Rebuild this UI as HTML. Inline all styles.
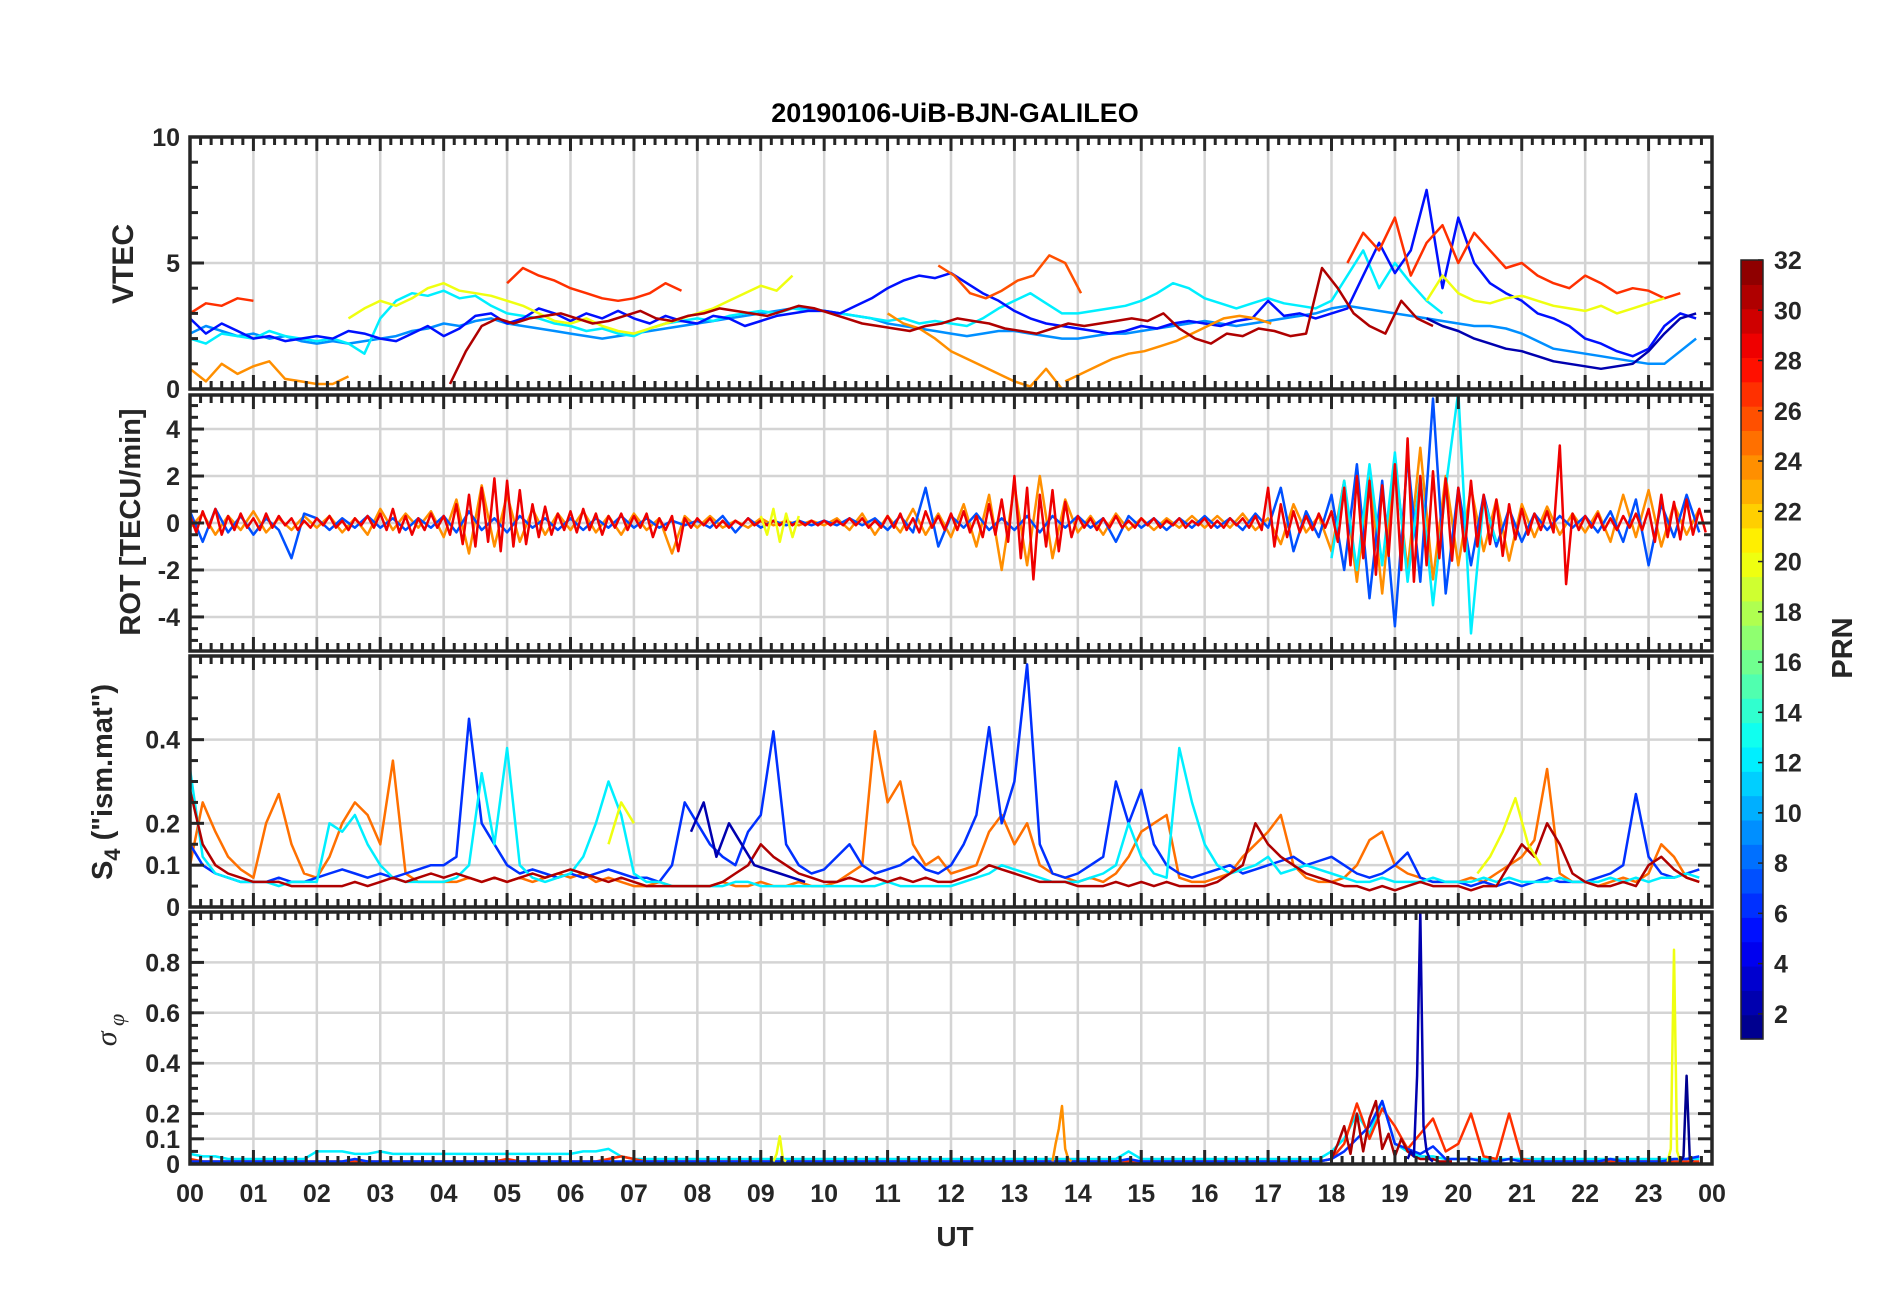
<!DOCTYPE html>
<html><head><meta charset="utf-8">
<style>
html,body{margin:0;padding:0;background:#fff;}
svg{display:block;font-family:"Liberation Sans",Arial,sans-serif;}
</style></head>
<body>
<svg id="chart" width="1902" height="1292" viewBox="0 0 1902 1292" xmlns="http://www.w3.org/2000/svg">
<rect x="0" y="0" width="1902" height="1292" fill="#fff"/>
<text x="955" y="122" text-anchor="middle" font-size="27" font-weight="bold" fill="#000">20190106-UiB-BJN-GALILEO</text>
<text x="955" y="1246" text-anchor="middle" font-size="28" font-weight="bold" fill="#262626">UT</text>
<g id="panels"></g>
<g id="cbar"></g>
</svg>
<script>
// ---------- DATA ----------
const hourLabels=["00","01","02","03","04","05","06","07","08","09","10","11","12","13","14","15","16","17","18","19","20","21","22","23","00"];
const cbarTicks=[2,4,6,8,10,12,14,16,18,20,22,24,26,28,30,32];
// VTEC series: prn, start hour, step hour, values
const vtecPrn=[9,12,5,27,27,27,26,24,24,24,20,20,31,2];
const vtecT0=[0,0,0,0,5.0,18.25,11.8,0,11.0,13.8,2.5,19.5,4.1,19.5];
const vtecDt=[0.25,0.25,0.25,0.25,0.25,0.25,0.25,0.25,0.25,0.25,0.25,0.25,0.25,0.25];
const vtecVals=[
[2.2,2.5,2.3,2.1,2.2,2.0,2.1,1.9,1.8,1.9,1.8,1.9,2.0,2.1,2.3,2.4,2.6,2.5,2.7,2.8,2.6,2.5,2.4,2.3,2.2,2.1,2.0,2.1,2.2,2.3,2.4,2.5,2.6,2.7,2.8,2.9,3.0,3.1,3.2,3.2,3.1,3.0,2.9,2.8,2.6,2.5,2.4,2.3,2.2,2.1,2.2,2.3,2.3,2.2,2.1,2.0,2.0,2.1,2.2,2.2,2.3,2.4,2.5,2.6,2.7,2.6,2.5,2.6,2.7,2.8,2.9,3.0,3.2,3.3,3.2,3.1,3.0,2.9,2.8,2.7,2.6,2.5,2.5,2.4,2.2,1.9,1.6,1.5,1.4,1.3,1.2,1.1,1.0,1.0,1.5,2.0],
[2.0,1.8,2.2,2.1,2.0,2.3,2.1,2.0,1.9,2.0,1.8,1.4,2.8,3.5,3.8,3.7,3.9,3.6,3.7,3.3,3.0,2.9,2.8,2.6,2.5,2.3,2.4,2.2,2.1,2.4,2.6,2.7,2.8,2.7,2.9,3.0,3.1,3.0,3.2,3.1,3.1,3.0,2.9,2.8,2.7,2.8,2.6,2.7,2.6,2.5,2.8,3.2,3.5,3.8,3.4,3.0,3.0,3.1,3.2,3.3,3.5,3.8,4.2,4.0,3.6,3.4,3.2,3.4,3.6,3.4,3.3,3.2,3.5,4.5,5.5,4.0,5.0,4.2,3.5,3.0],
[2.8,2.2,2.6,2.3,2.0,2.1,1.9,2.0,2.1,2.0,2.3,2.2,2.0,1.9,2.2,2.5,2.1,2.4,2.9,3.0,2.6,2.8,3.2,3.0,2.7,3.0,2.8,3.1,2.8,2.6,2.9,2.7,2.6,2.9,2.8,2.5,2.7,2.9,3.0,3.1,3.1,3.0,3.3,3.6,4.0,4.3,4.5,4.4,4.6,4.2,3.8,3.5,3.1,2.8,2.6,2.5,2.4,2.3,2.2,2.3,2.5,2.4,2.6,2.7,2.6,2.5,2.7,2.8,3.5,2.9,3.0,2.8,3.0,3.2,4.5,5.8,4.6,5.5,7.9,4.0,6.8,5.0,4.2,3.8,3.5,3.0,2.8,2.5,2.0,1.8,1.5,1.3,1.6,2.5,3.0,2.8],
[3.0,3.4,3.3,3.6,3.5],
[4.2,4.8,4.5,4.3,4.0,3.8,3.6,3.5,3.6,3.8,4.2,3.9],
[5.0,6.2,5.5,6.8,4.5,5.8,6.5,5.0,6.2,5.5,4.8,5.0,4.5,4.2,4.0,4.5,4.2,3.8,4.0,3.9,3.6,3.8],
[4.9,4.5,3.8,3.6,3.9,4.3,4.5,5.3,5.0,3.8],
[0.8,0.3,1.0,0.6,0.9,1.1,0.4,0.3,0.2,0.2,0.5],
[3.0,2.6,2.4,2.0,1.5,1.2,0.9,0.6,0.3,0.1,0.8,0.0],
[0.3,0.6,0.9,1.2,1.4,1.5,1.7,1.9,2.2,2.5,2.8,2.9,2.8,2.6],
[2.8,3.2,3.5,3.3,3.6,4.0,4.2,3.9,3.8,3.7,3.5,3.3,3.0,2.7,2.6,2.8,2.5,2.3,2.2,2.4,2.6,2.8,3.0,3.2,3.5,3.8,4.1,3.9,4.5],
[3.5,4.5,3.8,3.5,3.4,3.6,3.7,3.5,3.3,3.2,3.1,3.3,3.0,3.2,3.4,3.6],
[0.2,1.5,2.5,2.8,2.6,2.8,2.9,3.0,2.8,2.6,2.7,2.9,3.1,2.8,2.7,2.9,3.0,3.2,3.1,3.0,2.9,3.1,3.3,3.2,3.0,2.8,2.6,2.5,2.4,2.3,2.5,2.6,2.8,2.7,2.6,2.4,2.3,2.2,2.4,2.6,2.5,2.6,2.7,2.8,2.7,3.0,2.4,2.0,1.8,2.2,2.1,2.4,2.3,2.1,2.2,4.8,4.0,3.0,2.5,2.2,3.5,2.8,2.5],
[2.8,2.5,2.3,2.0,1.8,1.6,1.5,1.3,1.1,1.0,0.9,0.8,0.9,1.0,1.5,2.2,2.8,3.0]
];
// ROT series
const rotPrn=[24,7,12,29,20];
const rotT0=[0,0,18.0,0,9.0];
const rotDt=[0.2,0.2,0.2,0.1,0.1];
const rotVals=[
[-0.2,0.4,-0.5,0.3,-0.3,0.5,-0.4,0.2,-0.3,0.3,-0.2,0.3,-0.4,0.2,-0.5,0.6,-0.3,0.4,-0.2,0.5,-0.6,1.0,-1.3,1.6,-1.0,1.2,-0.8,0.6,-0.5,0.4,-0.3,0.5,-0.4,0.3,-0.5,0.4,-0.3,0.2,-1.3,0.3,-0.2,0.3,-0.2,0.1,-0.2,0.2,-0.1,0.1,-0.1,0.1,-0.1,0.2,-0.3,0.4,-0.5,0.3,-0.4,0.6,-0.5,0.4,-0.6,0.8,-1.0,1.2,-2.0,1.6,-1.8,2.0,-1.5,1.0,-0.4,0.3,-0.5,0.4,-0.3,0.2,-0.3,0.2,-0.2,0.3,-0.2,0.3,-0.2,0.4,-0.3,0.2,-0.9,0.8,-0.4,0.3,-1.2,1.8,-2.5,2.2,-3.0,2.6,-2.0,3.2,-2.4,2.0,-1.8,1.5,-1.2,1.0,-1.6,0.8,-0.6,0.7,-0.5,0.4,-0.4,0.5,-0.8,1.2,-0.6,1.4,-1.0,0.8,-0.5,0.6],
[0.5,-0.8,0.6,-0.4,0.3,-0.5,0.2,-0.3,-1.5,0.4,0.2,-0.3,0.2,-0.2,0.3,-0.2,0.2,-0.3,0.2,-0.2,0.3,-0.4,0.5,-0.3,0.2,-0.4,0.3,-0.2,0.2,-0.3,0.2,-0.3,0.2,-0.2,0.3,-0.2,0.2,-0.2,0.1,-0.1,0.1,-0.2,0.3,-0.4,0.2,-0.2,0.1,-0.1,0.1,-0.1,0.1,-0.1,0.2,-0.1,0.2,-0.3,0.3,-0.4,1.5,-1.0,0.3,-0.2,0.4,-0.3,0.2,-0.3,0.3,-0.4,0.3,-0.2,0.3,-0.2,0.2,-0.8,0.3,-0.2,0.2,-0.3,0.2,-0.2,0.3,-0.2,0.2,-0.3,0.4,-0.2,1.5,-1.2,0.5,-0.6,1.2,-2.0,2.5,-3.2,1.8,-4.4,2.8,-2.5,5.3,-3.0,1.5,-1.8,1.2,-1.0,0.6,-0.8,0.4,-0.3,0.3,-0.2,0.3,-0.4,0.5,-0.8,1.0,-1.8,0.8,-0.6,1.2,-0.4],
[-1.5,1.8,-2.0,2.5,-1.8,3.0,-2.5,2.0,-3.5,1.5,5.6,-4.7,1.0,-0.8],
[0.3,-0.4,0.5,-0.2,0.6,-0.5,0.3,-0.3,0.4,-0.2,0.2,-0.3,0.4,-0.2,0.3,-0.1,0.2,-0.3,0.1,-0.2,0.2,-0.1,0.3,-0.2,0.1,-0.3,0.2,-0.1,0.3,-0.2,0.4,-0.3,0.6,-0.4,0.3,-0.5,0.2,-0.3,0.4,-0.2,0.3,-0.5,0.8,-0.9,1.2,-1.0,1.5,-0.8,1.9,-1.2,1.8,-1.0,1.4,-0.9,0.8,-0.6,0.7,-0.5,0.4,-0.3,0.5,-0.4,0.6,-0.3,0.4,-0.5,0.3,-0.2,0.4,-0.3,0.3,-0.2,0.4,-0.6,0.2,-0.3,0.3,-1.2,0.2,-0.2,0.2,-0.1,0.2,-0.2,0.1,-0.2,0.1,-0.1,0.2,-0.1,0.1,-0.1,0.1,-0.1,0.1,-0.1,0.1,-0.1,0.1,-0.1,0.1,-0.1,0.1,-0.1,0.2,-0.1,0.2,-0.2,0.1,-0.2,0.3,-0.2,0.4,-0.3,0.2,-0.4,0.5,-0.2,0.3,-0.3,0.4,-0.3,0.5,-0.4,0.3,-0.6,0.8,-0.5,1.0,-0.8,2.0,-1.5,1.5,-2.4,1.2,-1.0,1.4,-1.2,0.9,-0.6,0.3,-0.2,0.2,-0.3,0.2,-0.2,0.3,-0.2,0.1,-0.2,0.2,-0.1,0.2,-0.2,0.1,-0.1,0.2,-0.2,0.1,-0.1,0.2,-0.2,0.1,-0.2,0.2,-0.1,0.2,-0.2,0.3,-0.3,1.5,-1.0,0.8,-0.6,0.5,-0.4,0.3,-0.3,0.4,-0.2,0.5,-0.8,1.5,-1.8,2.0,-1.5,1.8,-2.2,1.6,-1.4,2.5,-2.0,3.6,-2.5,2.0,-1.8,2.2,-1.5,1.9,-1.6,1.5,-1.2,1.8,-1.0,1.2,-0.9,1.0,-1.4,0.8,-0.7,0.6,-0.5,0.4,-0.3,0.5,-0.4,3.3,-2.6,0.4,-0.3,0.3,-0.2,0.4,-0.3,0.2,-0.3,0.3,-0.2,0.4,-0.3,0.6,-0.8,1.2,-0.6,0.9,-0.7,1.0,-0.5,0.6,-0.4],
[0.3,-0.5,0.6,-0.8,0.4,-0.6,0.3]
];
// S4 series
const s4Prn=[25,6,12,31,2,20,20];
const s4T0=[0,0,0,0,7.9,20.3,6.6];
const s4Dt=[0.2,0.2,0.2,0.2,0.2,0.2,0.2];
const s4Vals=[
[0.10,0.25,0.18,0.12,0.09,0.07,0.20,0.27,0.15,0.08,0.07,0.12,0.20,0.25,0.22,0.15,0.35,0.08,0.06,0.06,0.06,0.06,0.07,0.06,0.07,0.06,0.07,0.06,0.07,0.08,0.07,0.08,0.06,0.07,0.06,0.05,0.05,0.06,0.05,0.05,0.05,0.05,0.06,0.05,0.05,0.06,0.05,0.05,0.06,0.05,0.05,0.06,0.08,0.10,0.42,0.25,0.30,0.15,0.10,0.12,0.08,0.09,0.10,0.18,0.22,0.15,0.20,0.10,0.08,0.07,0.06,0.07,0.06,0.08,0.12,0.18,0.20,0.22,0.07,0.06,0.06,0.07,0.08,0.12,0.15,0.18,0.22,0.10,0.07,0.06,0.06,0.07,0.10,0.16,0.18,0.10,0.08,0.07,0.06,0.06,0.06,0.07,0.06,0.08,0.10,0.12,0.16,0.33,0.08,0.06,0.06,0.05,0.06,0.07,0.06,0.08,0.15,0.12,0.07,0.06],
[0.15,0.10,0.08,0.07,0.06,0.06,0.06,0.07,0.06,0.06,0.07,0.08,0.09,0.08,0.07,0.08,0.07,0.08,0.09,0.10,0.10,0.12,0.45,0.20,0.15,0.10,0.08,0.09,0.08,0.07,0.08,0.07,0.08,0.09,0.08,0.07,0.07,0.06,0.10,0.25,0.20,0.15,0.12,0.10,0.18,0.22,0.42,0.15,0.10,0.08,0.09,0.12,0.15,0.10,0.08,0.09,0.10,0.12,0.09,0.08,0.10,0.15,0.22,0.43,0.20,0.30,0.58,0.15,0.08,0.07,0.08,0.10,0.12,0.30,0.20,0.28,0.15,0.10,0.08,0.07,0.08,0.09,0.10,0.08,0.09,0.10,0.11,0.12,0.10,0.11,0.12,0.10,0.08,0.07,0.08,0.10,0.13,0.07,0.06,0.06,0.06,0.05,0.06,0.05,0.06,0.05,0.06,0.07,0.06,0.06,0.06,0.07,0.08,0.10,0.27,0.12,0.08,0.07,0.08,0.09],
[0.33,0.12,0.08,0.07,0.06,0.06,0.06,0.05,0.06,0.06,0.06,0.20,0.18,0.22,0.15,0.10,0.07,0.06,0.06,0.06,0.06,0.07,0.10,0.32,0.15,0.38,0.10,0.07,0.06,0.07,0.08,0.12,0.20,0.30,0.22,0.08,0.06,0.06,0.05,0.05,0.05,0.05,0.05,0.06,0.06,0.05,0.05,0.05,0.05,0.05,0.05,0.05,0.05,0.05,0.05,0.06,0.05,0.05,0.05,0.05,0.05,0.06,0.07,0.08,0.10,0.09,0.08,0.07,0.06,0.06,0.06,0.07,0.08,0.10,0.20,0.12,0.08,0.07,0.38,0.25,0.15,0.10,0.08,0.09,0.10,0.12,0.08,0.09,0.10,0.09,0.08,0.07,0.06,0.06,0.07,0.06,0.06,0.06,0.07,0.06,0.06,0.06,0.07,0.06,0.07,0.06,0.06,0.06,0.07,0.06,0.06,0.06,0.07,0.06,0.07,0.06,0.07,0.07,0.08,0.07],
[0.28,0.15,0.10,0.08,0.07,0.06,0.06,0.06,0.05,0.05,0.05,0.05,0.05,0.06,0.05,0.06,0.07,0.06,0.07,0.08,0.07,0.08,0.07,0.06,0.07,0.06,0.07,0.08,0.07,0.08,0.09,0.08,0.07,0.06,0.07,0.06,0.05,0.05,0.05,0.05,0.05,0.05,0.06,0.08,0.10,0.15,0.12,0.10,0.08,0.07,0.06,0.06,0.07,0.06,0.07,0.06,0.07,0.06,0.07,0.06,0.06,0.07,0.08,0.10,0.09,0.08,0.07,0.06,0.06,0.06,0.05,0.05,0.05,0.06,0.05,0.06,0.05,0.06,0.05,0.05,0.05,0.06,0.08,0.10,0.20,0.15,0.12,0.10,0.08,0.07,0.06,0.05,0.05,0.04,0.05,0.04,0.05,0.06,0.05,0.05,0.05,0.04,0.05,0.05,0.10,0.15,0.12,0.20,0.15,0.08,0.06,0.05,0.05,0.06,0.05,0.10,0.12,0.09,0.07,0.06],
[0.18,0.25,0.12,0.20,0.15,0.10,0.09,0.08,0.07,0.06],
[0.08,0.12,0.18,0.26,0.15,0.10],
[0.15,0.25,0.20]
];
// sigma-phi series
const sigPrn=[12,27,6,31,2,20,20,24,1];
const sigT0=[0,0,0,18.0,19.2,9.2,23.3,13.6,23.5];
const sigDt=[0.2,0.2,0.2,0.1,0.05,0.05,0.05,0.05,0.05];
const sigVals=[
[0.04,0.03,0.03,0.02,0.02,0.02,0.02,0.02,0.02,0.02,0.05,0.05,0.05,0.04,0.04,0.05,0.04,0.04,0.04,0.04,0.04,0.04,0.04,0.04,0.04,0.04,0.04,0.04,0.04,0.04,0.04,0.05,0.05,0.06,0.03,0.02,0.02,0.02,0.02,0.02,0.02,0.02,0.02,0.02,0.02,0.02,0.02,0.02,0.02,0.02,0.02,0.02,0.02,0.02,0.02,0.02,0.02,0.02,0.02,0.02,0.02,0.02,0.02,0.02,0.02,0.02,0.02,0.02,0.02,0.02,0.02,0.02,0.02,0.02,0.05,0.02,0.02,0.02,0.02,0.02,0.02,0.02,0.02,0.02,0.02,0.02,0.02,0.02,0.02,0.02,0.05,0.10,0.20,0.12,0.25,0.08,0.05,0.03,0.03,0.02,0.02,0.02,0.02,0.02,0.02,0.02,0.02,0.02,0.02,0.02,0.02,0.02,0.02,0.02,0.02,0.02,0.02,0.02,0.02,0.02],
[0.02,0.01,0.01,0.01,0.01,0.01,0.01,0.01,0.01,0.01,0.01,0.01,0.01,0.01,0.01,0.01,0.01,0.01,0.01,0.01,0.01,0.01,0.01,0.01,0.01,0.02,0.01,0.01,0.01,0.01,0.01,0.01,0.01,0.02,0.03,0.02,0.01,0.01,0.01,0.01,0.01,0.01,0.01,0.01,0.01,0.01,0.01,0.01,0.01,0.01,0.01,0.01,0.01,0.01,0.01,0.01,0.01,0.01,0.01,0.01,0.01,0.01,0.01,0.01,0.01,0.01,0.01,0.01,0.01,0.01,0.01,0.01,0.01,0.01,0.01,0.01,0.01,0.01,0.01,0.01,0.01,0.01,0.01,0.01,0.01,0.01,0.01,0.01,0.01,0.01,0.02,0.08,0.24,0.10,0.22,0.15,0.06,0.12,0.18,0.05,0.08,0.20,0.03,0.02,0.20,0.02,0.01,0.01,0.01,0.01,0.01,0.01,0.01,0.01,0.01,0.01,0.01,0.01,0.01,0.01],
[0.01,0.01,0.01,0.01,0.01,0.01,0.01,0.01,0.01,0.01,0.01,0.01,0.01,0.02,0.01,0.01,0.01,0.01,0.01,0.01,0.01,0.01,0.01,0.01,0.01,0.01,0.01,0.01,0.01,0.01,0.01,0.01,0.01,0.01,0.01,0.01,0.01,0.01,0.01,0.01,0.01,0.01,0.01,0.01,0.01,0.01,0.01,0.01,0.01,0.01,0.01,0.01,0.01,0.01,0.01,0.01,0.01,0.01,0.01,0.01,0.01,0.01,0.01,0.01,0.01,0.01,0.01,0.01,0.01,0.01,0.01,0.01,0.01,0.01,0.02,0.01,0.01,0.01,0.01,0.01,0.01,0.01,0.01,0.01,0.01,0.01,0.01,0.01,0.01,0.01,0.02,0.05,0.10,0.15,0.25,0.08,0.06,0.04,0.07,0.02,0.02,0.02,0.01,0.01,0.02,0.01,0.01,0.01,0.01,0.01,0.01,0.01,0.02,0.01,0.01,0.01,0.01,0.02,0.02,0.03],
[0.02,0.08,0.15,0.04,0.20,0.05,0.18,0.25,0.06,0.12,0.03,0.10,0.05,0.03,0.02,0.02,0.02,0.01,0.01,0.01],
[0.02,0.05,0.03,0.35,1.0,0.15,0.05,0.02,0.01],
[0.01,0.04,0.11,0.02,0.01],
[0.01,0.06,0.85,0.05,0.01],
[0.01,0.08,0.14,0.23,0.06,0.02,0.01],
[0.01,0.03,0.35,0.02,0.01]
];
// ---------- DRAWING ----------
const NS="http://www.w3.org/2000/svg";
const X0=190,X1=1712,H0=0,H1=24;
function xs(h){return X0+(h-H0)/(H1-H0)*(X1-X0);}
function jet(v){
  const r=Math.min(1,Math.max(0,Math.min(4*v-1.5,-4*v+4.5)));
  const g=Math.min(1,Math.max(0,Math.min(4*v-0.5,-4*v+3.5)));
  const b=Math.min(1,Math.max(0,Math.min(4*v+0.5,-4*v+2.5)));
  return "rgb("+Math.round(r*255)+","+Math.round(g*255)+","+Math.round(b*255)+")";
}
function prnColor(p){return jet((p-0.5)/32);}
function el(tag,attrs,parent){const e=document.createElementNS(NS,tag);for(const k in attrs)e.setAttribute(k,attrs[k]);parent.appendChild(e);return e;}
const panelsG=document.getElementById('panels');
const panels=[
 {name:'vtec',top:137,bot:389,ymin:0,ymax:10,ticks:[0,5,10],labels:["0","5","10"],minor:1,prn:vtecPrn,t0:vtecT0,dt:vtecDt,vals:vtecVals},
 {name:'rot',top:395,bot:651,ymin:-5.45,ymax:5.45,ticks:[-4,-2,0,2,4],labels:["-4","-2","0","2","4"],minor:0.5,prn:rotPrn,t0:rotT0,dt:rotDt,vals:rotVals},
 {name:'s4',top:656,bot:907,ymin:0,ymax:0.6,ticks:[0,0.1,0.2,0.4],labels:["0","0.1","0.2","0.4"],minor:0.05,prn:s4Prn,t0:s4T0,dt:s4Dt,vals:s4Vals},
 {name:'sigma',top:912,bot:1164,ymin:0,ymax:1.0,ticks:[0,0.1,0.2,0.4,0.6,0.8],labels:["0","0.1","0.2","0.4","0.6","0.8"],minor:0.05,prn:sigPrn,t0:sigT0,dt:sigDt,vals:sigVals}
];
panels.forEach((P,pi)=>{
  const g=el('g',{},panelsG);
  
  
  const ys=v=>P.bot-(v-P.ymin)/(P.ymax-P.ymin)*(P.bot-P.top);
  for(let h=1;h<24;h++){
    const l=el('line',{x1:xs(h),x2:xs(h),y1:P.top,y2:P.bot,stroke:'#d4d4d4','stroke-width':2.5},g);
    
    
  }
  P.ticks.forEach(t=>{
    if(t===P.ymin)return;
    const l=el('line',{x1:X0,x2:X1,y1:ys(t),y2:ys(t),stroke:'#d4d4d4','stroke-width':2.5},g);
    
    
  });
  const clipId='clip'+pi;
  const cp=el('clipPath',{id:clipId},g);el('rect',{x:X0,y:P.top,width:X1-X0,height:P.bot-P.top},cp);
  const sg=el('g',{'clip-path':'url(#'+clipId+')'},g);
  P.vals.forEach((arr,si)=>{
    const pts=arr.map((v,i)=>xs(P.t0[si]+i*P.dt[si]).toFixed(1)+','+ys(v).toFixed(1)).join(' ');
    const pl=el('polyline',{points:pts,fill:'none',stroke:prnColor(P.prn[si]),'stroke-width':2.5,'stroke-linejoin':'round'},sg);
    
    
  });
  const tg=el('g',{stroke:'#262626','stroke-width':3},g);
  for(let m=0;m<=24*6;m++){
    const x=xs(m/6),maj=(m%6===0),L=maj?14:8;
    el('line',{x1:x,x2:x,y1:P.top,y2:P.top+L},tg);
    el('line',{x1:x,x2:x,y1:P.bot,y2:P.bot-L},tg);
  }
  const nMin=Math.round((P.ymax-P.ymin)/P.minor)+2;
  const start=Math.ceil(P.ymin/P.minor)*P.minor;
  for(let k=0;k<nMin;k++){
    const v=start+k*P.minor; if(v>P.ymax+1e-9)break;
    const isMaj=P.ticks.some(t=>Math.abs(t-v)<1e-6),L=isMaj?14:8;
    el('line',{x1:X0,x2:X0+L,y1:ys(v),y2:ys(v)},tg);
    el('line',{x1:X1,x2:X1-L,y1:ys(v),y2:ys(v)},tg);
  }
  const box=el('rect',{x:X0,y:P.top,width:X1-X0,height:P.bot-P.top,fill:'none',stroke:'#262626','stroke-width':3.5},g);
  
  
  P.ticks.forEach((t,i)=>{
    const tx=el('text',{x:X0-10,y:ys(t)+9,'text-anchor':'end','font-size':25,'font-weight':'bold',fill:'#262626'},g);
    tx.textContent=P.labels[i];
    
    
  });
});
hourLabels.forEach((lab,i)=>{
  const t=el('text',{x:xs(i),y:1202,'text-anchor':'middle','font-size':25,'font-weight':'bold',fill:'#262626'},panelsG);
  t.textContent=lab;
  
  
});
function ytitle(txt,x,y,name,size){
  const t=el('text',{x:x,y:y,transform:'rotate(-90 '+x+' '+y+')','text-anchor':'middle','font-size':size,'font-weight':'bold',fill:'#262626'},panelsG);
  t.textContent=txt;
  
  
  return t;
}
ytitle('VTEC',133,264,'vtec-axis-title',30);
ytitle('ROT [TECU/min]',140,522,'rot-axis-title',29);
{
  const x=112,y=782;
  const t=el('text',{x:x,y:y,transform:'rotate(-90 '+x+' '+y+')','text-anchor':'middle','font-size':29,'font-weight':'bold',fill:'#262626'},panelsG);
  
  
  t.innerHTML='S<tspan dy="8" font-size="22">4</tspan><tspan dy="-8"> ("ism.mat")</tspan>';
  const s=el('text',{x:116,y:1030,transform:'rotate(-90 116 1030)','text-anchor':'middle','font-size':30,'font-style':'italic',fill:'#262626','font-family':'Liberation Serif, serif'},panelsG);
  
  
  s.innerHTML='σ<tspan dy="8" font-size="22"> φ</tspan>';
}
const cb=document.getElementById('cbar');


const CBX=1741,CBW=22,CBT=260,CBB=1039;
for(let i=0;i<32;i++){
  const h=(CBB-CBT)/32;
  el('rect',{x:CBX,y:CBB-(i+1)*h,width:CBW,height:h+0.6,fill:jet((i+0.5)/32)},cb);
}
el('rect',{x:CBX,y:CBT,width:CBW,height:CBB-CBT,fill:'none',stroke:'#262626','stroke-width':1.5},cb);
const cbY=v=>CBB-(v-1)/31*(CBB-CBT);
cbarTicks.forEach(v=>{
  el('line',{x1:CBX+CBW-5,x2:CBX+CBW,y1:cbY(v),y2:cbY(v),stroke:'#262626','stroke-width':1.5},cb);
  const t=el('text',{x:1774,y:cbY(v)+9,'font-size':25,'font-weight':'bold',fill:'#262626'},cb);
  t.textContent=v;
  
  
});
{
  const t=el('text',{x:1852,y:648,transform:'rotate(-90 1852 648)','text-anchor':'middle','font-size':29,'font-weight':'bold',fill:'#262626'},cb);
  t.textContent='PRN';
  
  
}
</script>
</body></html>
